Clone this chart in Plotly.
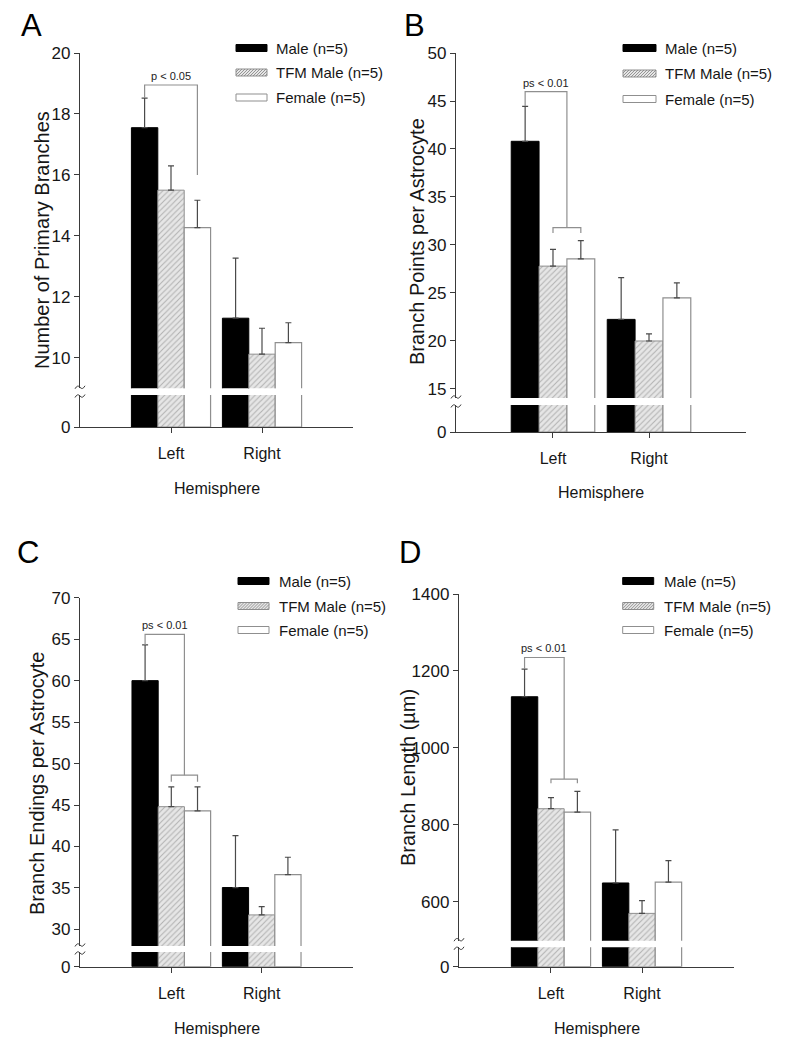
import plotly.graph_objects as go

W, H = 791, 1057

# ---------------- data ----------------
hemispheres = ['Left', 'Right']
x_pos = [0, 1]
series_names = ['Male (n=5)', 'TFM Male (n=5)', 'Female (n=5)']

# Panel A: Number of Primary Branches
A_male = [17.55, 11.3]
A_male_err = [0.97, 1.97]
A_tfm = [15.5, 10.12]
A_tfm_err = [0.8, 0.85]
A_female = [14.27, 10.5]
A_female_err = [0.9, 0.65]

# Panel B: Branch Points per Astrocyte
B_male = [40.8, 22.25]
B_male_err = [3.65, 4.35]
B_tfm = [27.8, 20.0]
B_tfm_err = [1.75, 0.75]
B_female = [28.55, 24.5]
B_female_err = [1.9, 1.55]

# Panel C: Branch Endings per Astrocyte
C_male = [60.0, 35.05]
C_male_err = [4.3, 6.25]
C_tfm = [44.8, 31.75]
C_tfm_err = [2.4, 1.0]
C_female = [44.3, 36.6]
C_female_err = [2.9, 2.1]

# Panel D: Branch Length (um)
D_male = [1133, 649]
D_male_err = [72, 138]
D_tfm = [842, 570]
D_tfm_err = [29, 33]
D_female = [833, 651]
D_female_err = [54, 56]

# significance brackets (levels in data units)
A_sig = {'label': 'p < 0.05', 'top': 18.95, 'left_end': 18.52, 'right_end': 16.0, 'pair': None}
B_sig = {'label': 'ps < 0.01', 'top': 45.97, 'left_end': 44.48, 'right_end': 31.8, 'pair': 31.25}
C_sig = {'label': 'ps < 0.01', 'top': 65.58, 'left_end': 64.3, 'right_end': 48.6, 'pair': 47.8}
D_sig = {'label': 'ps < 0.01', 'top': 1235, 'left_end': 1205, 'right_end': 919, 'pair': 908}

# ---------------- layout geometry (pixels) ----------------
panels = [
    dict(letter='A', title='Number of Primary Branches',
         means=[A_male, A_tfm, A_female], errs=[A_male_err, A_tfm_err, A_female_err], sig=A_sig,
         xdom=(80, 353), up=(53, 388.3), low=(395, 427), yrange=(9.0, 20), ticks=(10, 20, 2),
         letter_xy=(31, 26), title_xy=(42, 240), hemi_y=488,
         leg=(236, 267, 274, [48, 72.5, 97.5])),
    dict(letter='B', title='Branch Points per Astrocyte',
         means=[B_male, B_tfm, B_female], errs=[B_male_err, B_tfm_err, B_female_err], sig=B_sig,
         xdom=(456, 746), up=(53, 398), low=(405, 432), yrange=(14.06, 50), ticks=(15, 50, 5),
         letter_xy=(414, 26), title_xy=(417, 242), hemi_y=492,
         leg=(623, 656, 663, [48, 73.5, 99])),
    dict(letter='C', title='Branch Endings per Astrocyte',
         means=[C_male, C_tfm, C_female], errs=[C_male_err, C_tfm_err, C_female_err], sig=C_sig,
         xdom=(80, 353), up=(597.7, 946), low=(952, 966.7), yrange=(28, 70), ticks=(30, 70, 5),
         letter_xy=(28, 552), title_xy=(37, 784), hemi_y=1028,
         leg=(238, 269, 277, [581, 606, 630])),
    dict(letter='D', title='Branch Length (µm)',
         means=[D_male, D_tfm, D_female], errs=[D_male_err, D_tfm_err, D_female_err], sig=D_sig,
         xdom=(459, 734), up=(594, 940.7), low=(947.3, 966.7), yrange=(499, 1400), ticks=(600, 1400, 200),
         letter_xy=(410, 552), title_xy=(408, 778), hemi_y=1028,
         leg=(622.7, 653.7, 662, [581, 606, 630])),
]

FONT = 'Liberation Sans, Arial, sans-serif'
AXC = '#3a3a3a'
GRAY = '#8f8f8f'
TXT = '#161616'
BARGAP = 0.13
bar_w = (1 - BARGAP) / 3


def fx(x):
    return x / W


def fy(y):
    return 1 - y / H


styles = [
    dict(color='#000000', line=dict(color='#000000', width=1)),
    dict(color='#e4e4e4', line=dict(color=GRAY, width=1),
         pattern=dict(shape='/', fgcolor='#808080', bgcolor='#e6e6e6', size=4, solidity=0.28)),
    dict(color='#ffffff', line=dict(color=GRAY, width=1.2)),
]

fig = go.Figure()
layout = {}
shapes = []
annotations = []

for i, p in enumerate(panels):
    ui, li = 2 * i + 1, 2 * i + 2
    xu, yu = ('x' if ui == 1 else f'x{ui}'), ('y' if ui == 1 else f'y{ui}')
    xl, yl = f'x{li}', f'y{li}'
    xk_u = 'xaxis' if ui == 1 else f'xaxis{ui}'
    yk_u = 'yaxis' if ui == 1 else f'yaxis{ui}'
    xk_l, yk_l = f'xaxis{li}', f'yaxis{li}'

    for k in range(3):
        fig.add_trace(go.Bar(
            x=x_pos, y=p['means'][k], xaxis=xu, yaxis=yu, marker=styles[k],
            showlegend=False, name=series_names[k], offsetgroup=str(k),
            error_y=dict(type='data', array=p['errs'][k], arrayminus=[0, 0], symmetric=False,
                         color='#4a4a4a', thickness=1.2, width=3)))
        fig.add_trace(go.Bar(
            x=x_pos, y=p['means'][k], xaxis=xl, yaxis=yl, marker=styles[k],
            showlegend=False, name=series_names[k], offsetgroup=str(k)))

    xdom = [fx(p['xdom'][0]), fx(p['xdom'][1])]
    xr = [-1.0 - (0.01 if i else 0), 2.0 + (0.01 if i else 0)]
    layout[xk_u] = dict(domain=xdom, range=xr, visible=False, fixedrange=True, automargin=False)
    layout[xk_l] = dict(domain=xdom, range=xr, showline=True, linecolor=AXC, linewidth=1.2,
                        ticks='outside', ticklen=5, tickcolor=AXC, tickvals=x_pos, ticktext=hemispheres,
                        tickfont=dict(family=FONT, size=16, color=TXT), ticklabelstandoff=7,
                        showgrid=False, zeroline=False, anchor=yl, automargin=False)
    t0, t1, dt = p['ticks']
    layout[yk_u] = dict(domain=[fy(p['up'][1]), fy(p['up'][0])], range=list(p['yrange']),
                        tickmode='linear', tick0=t0, dtick=dt, showline=True, linecolor=AXC,
                        linewidth=1.2, ticks='outside', ticklen=5, tickcolor=AXC,
                        tickfont=dict(family=FONT, size=17, color=TXT),
                        showgrid=False, zeroline=False, anchor=xu, automargin=False)
    layout[yk_l] = dict(domain=[fy(p['low'][1]), fy(p['low'][0])], range=[0, 1],
                        tickvals=[0], ticktext=['0'], showline=True, linecolor=AXC,
                        linewidth=1.2, ticks='outside', ticklen=5, tickcolor=AXC,
                        tickfont=dict(family=FONT, size=17, color=TXT),
                        showgrid=False, zeroline=False, anchor=xl, automargin=False)

    # significance bracket
    s = p['sig']
    xl_c = -bar_w
    xr_c = bar_w if s['pair'] is None else bar_w / 2
    fig.add_trace(go.Scatter(
        x=[xl_c, xl_c, xr_c, xr_c], y=[s['left_end'], s['top'], s['top'], s['right_end']],
        mode='lines', line=dict(color=GRAY, width=1.2), xaxis=xu, yaxis=yu,
        showlegend=False, hoverinfo='skip', cliponaxis=False))
    if s['pair'] is not None:
        fig.add_trace(go.Scatter(
            x=[0, 0, bar_w, bar_w], y=[s['pair'], s['right_end'], s['right_end'], s['pair']],
            mode='lines', line=dict(color=GRAY, width=1.2), xaxis=xu, yaxis=yu,
            showlegend=False, hoverinfo='skip', cliponaxis=False))
    annotations.append(dict(x=(xl_c + xr_c) / 2, y=s['top'], xref=xu, yref=yu, text=s['label'],
                            showarrow=False, xanchor='center', yanchor='bottom', yshift=1,
                            font=dict(family=FONT, size=11, color='#222')))

    # break squiggles on y axis
    ax = p['xdom'][0]
    for yb in (p['up'][1] - 1, p['low'][0] + 1):
        path = (f"M {fx(ax-5)},{fy(yb+1.5)} Q {fx(ax-2.5)},{fy(yb-3)} {fx(ax)},{fy(yb)} "
                f"Q {fx(ax+2.5)},{fy(yb+3)} {fx(ax+5)},{fy(yb-1.5)}")
        shapes.append(dict(type='path', path=path, xref='paper', yref='paper',
                           line=dict(color=AXC, width=1)))

    # panel letter, y title, x title
    lx, ly = p['letter_xy']
    annotations.append(dict(x=fx(lx), y=fy(ly), xref='paper', yref='paper', text=p['letter'],
                            showarrow=False, xanchor='center', yanchor='middle',
                            font=dict(family=FONT, size=31, color='#000')))
    tx, ty = p['title_xy']
    annotations.append(dict(x=fx(tx), y=fy(ty), xref='paper', yref='paper', text=p['title'],
                            textangle=-90, showarrow=False, xanchor='center', yanchor='middle',
                            font=dict(family=FONT, size=20, color=TXT)))
    annotations.append(dict(x=(xdom[0] + xdom[1]) / 2, y=fy(p['hemi_y']), xref='paper', yref='paper',
                            text='Hemisphere', showarrow=False, xanchor='center', yanchor='middle',
                            font=dict(family=FONT, size=16, color=TXT)))

    # legend
    rx0, rx1, txx, rows = p['leg']
    for k in range(3):
        yc = rows[k]
        y0, y1 = yc - 3.5, yc + 3.5
        if k == 0:
            shapes.append(dict(type='rect', xref='paper', yref='paper', x0=fx(rx0), x1=fx(rx1),
                               y0=fy(y1), y1=fy(y0), fillcolor='#000', line=dict(color='#000', width=1)))
        elif k == 1:
            shapes.append(dict(type='rect', xref='paper', yref='paper', x0=fx(rx0), x1=fx(rx1),
                               y0=fy(y1), y1=fy(y0), fillcolor='#e6e6e6', line=dict(color=GRAY, width=1)))
            hgt = y1 - y0
            segs = []
            sx = rx0 - hgt
            while sx < rx1:
                ax0, ay0 = sx, y1
                ax1, ay1 = sx + hgt, y0
                if ax0 < rx0:
                    ay0 = y1 - (rx0 - ax0)
                    ax0 = rx0
                if ax1 > rx1:
                    ay1 = y0 + (ax1 - rx1)
                    ax1 = rx1
                if ax1 > ax0:
                    segs.append(f"M {fx(ax0)},{fy(ay0)} L {fx(ax1)},{fy(ay1)}")
                sx += 3
            shapes.append(dict(type='path', xref='paper', yref='paper', path=' '.join(segs),
                               line=dict(color='#808080', width=0.8)))
        else:
            shapes.append(dict(type='rect', xref='paper', yref='paper', x0=fx(rx0), x1=fx(rx1),
                               y0=fy(y1), y1=fy(y0), fillcolor='#fff', line=dict(color=GRAY, width=1)))
        annotations.append(dict(x=fx(txx), y=fy(yc), xref='paper', yref='paper', text=series_names[k],
                                xanchor='left', yanchor='middle', showarrow=False,
                                font=dict(family=FONT, size=15, color=TXT)))

fig.update_layout(
    width=W, height=H, autosize=False,
    margin=dict(l=0, r=0, t=0, b=0, pad=0),
    paper_bgcolor='white', plot_bgcolor='rgba(0,0,0,0)',
    barmode='group', bargap=BARGAP, bargroupgap=0,
    showlegend=False, shapes=shapes, annotations=annotations,
    **layout)

fig.write_html('out.html', config={'displayModeBar': False, 'staticPlot': True},
               post_script="document.body.style.margin='0';document.body.style.overflow='hidden';")
